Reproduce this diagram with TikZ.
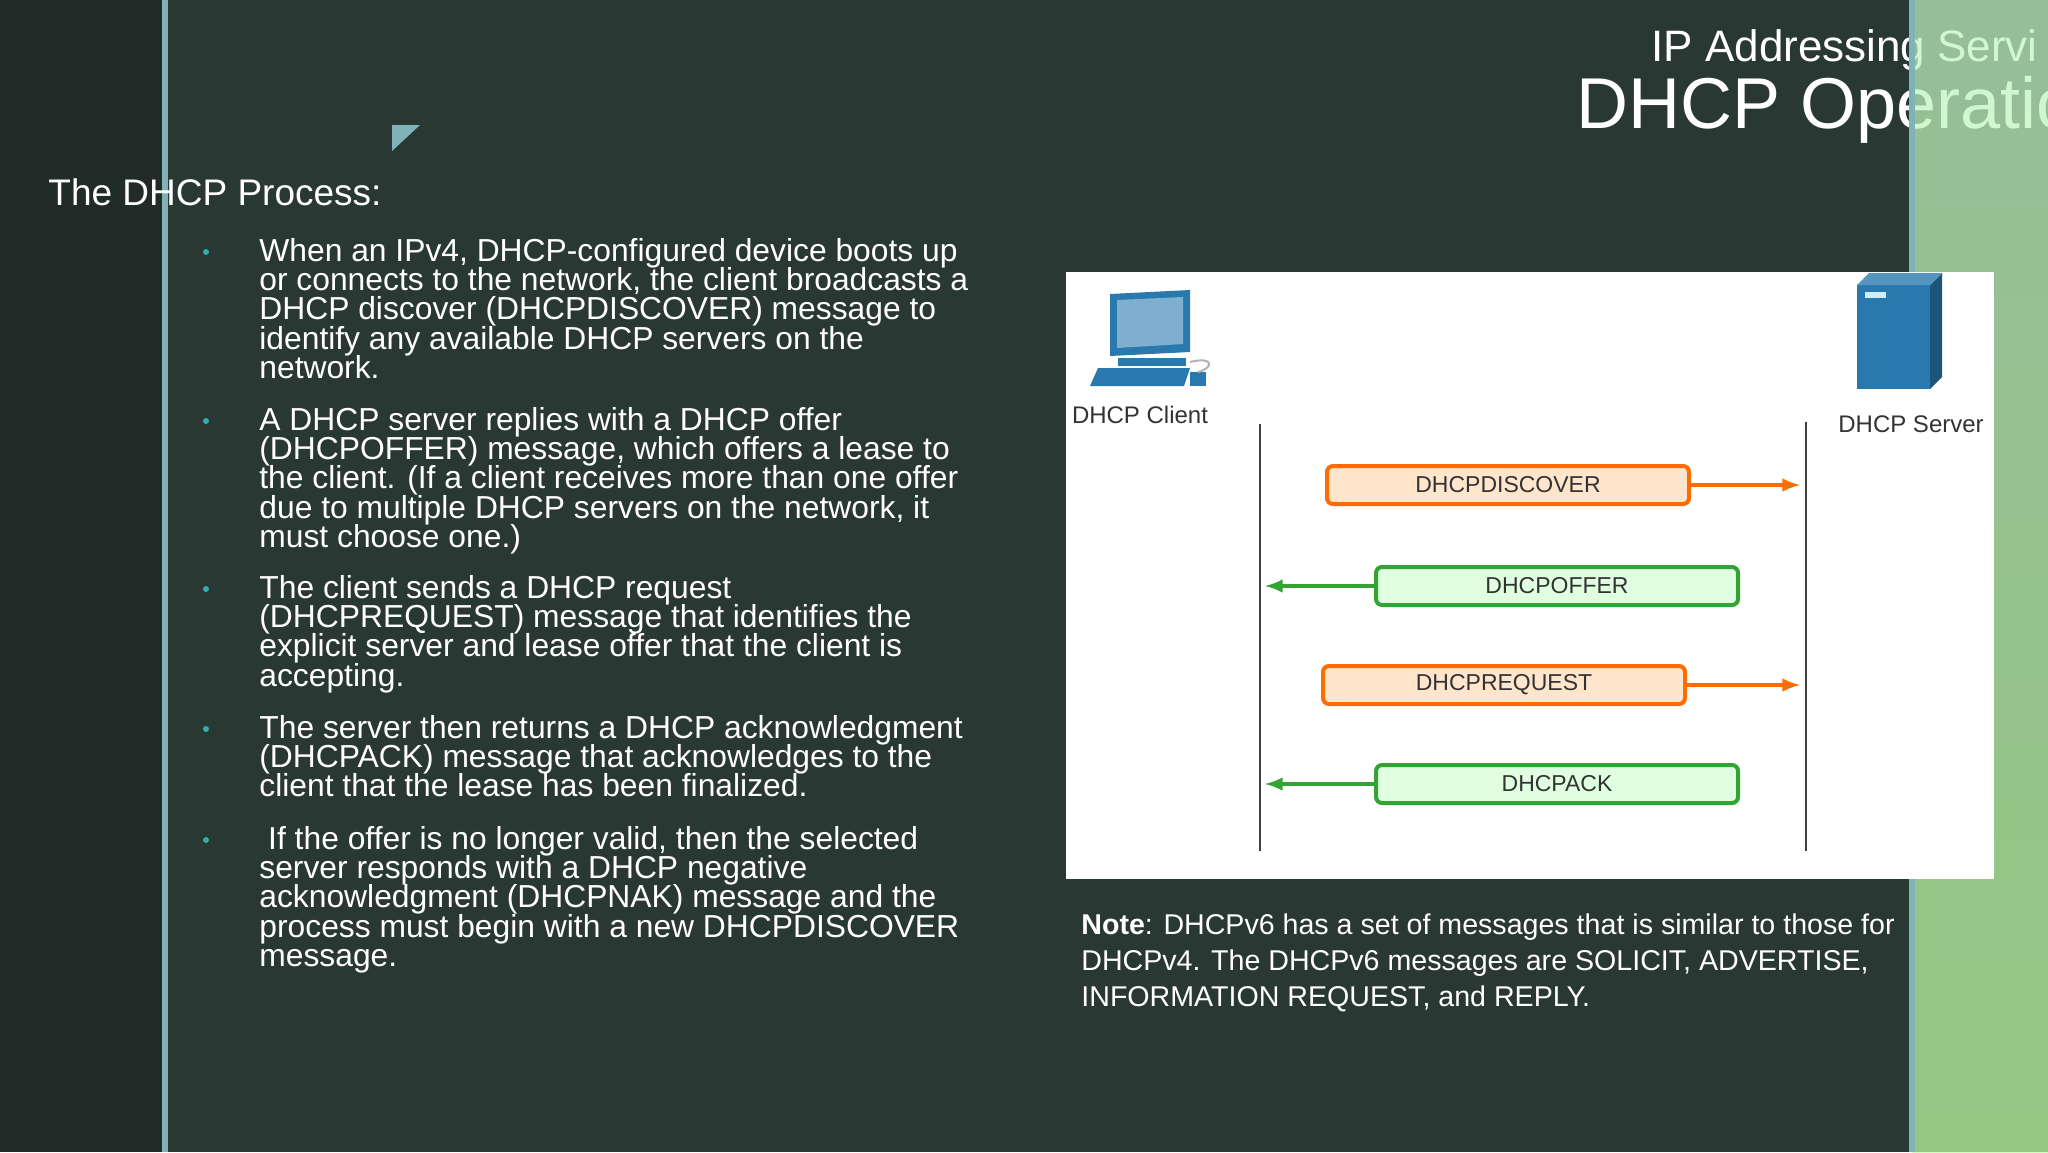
\documentclass[tikz,border=0pt]{standalone}
\usepackage{fontspec}
\setmainfont{Liberation Sans}
\newcommand\mytight{\lineskiplimit=-20pt\relax\lineskip=0pt\relax}
\begin{document}
\begin{tikzpicture}[x=0.5pt,y=-0.5pt,
  body/.style={anchor=north west,align=left,inner sep=0pt,text=white,font=\fontsize{15.9}{14.6}\selectfont\mytight},
  dot/.style={circle,fill=teal!40!cyan!60!gray,inner sep=0pt,minimum size=3pt},
  msgO/.style={draw=orange!85!red,line width=2pt,fill=orange!20!white,rounded corners=3pt,inner sep=0pt,text=black!80,font=\fontsize{11.5}{13}\selectfont},
  msgG/.style={draw=green!55!black!80,line width=2pt,fill=green!12!white,rounded corners=3pt,inner sep=0pt,text=black!80,font=\fontsize{11.5}{13}\selectfont},
  arO/.style={-latex,line width=2pt,draw=orange!85!red},
  arG/.style={-latex,line width=2pt,draw=green!55!black!80},
  life/.style={line width=1.4pt,draw=black!75},
  lab/.style={inner sep=0pt,text=black!80,font=\fontsize{12}{13}\selectfont},
  icon/.style={fill=iconb}]
\definecolor{bg}{HTML}{2A3833}
\definecolor{bgd}{HTML}{212C28}
\definecolor{tealline}{HTML}{7FB3B8}
\definecolor{iconb}{HTML}{2A79AE}
\useasboundingbox (0,0) rectangle (2048,1152);
\fill[bg] (0,0) rectangle (2048,1152);
\fill[bgd] (0,0) rectangle (163,1152);
\fill[tealline] (162,0) rectangle (168,1152);
% titles
\node[anchor=base west,inner sep=0pt,text=white,font=\fontsize{22}{26}\selectfont] (t1) at (1651,61) {IP Addressing Servi};
\node[anchor=base west,inner sep=0pt,text=white,font=\fontsize{36}{44}\selectfont] (t2) at (1576,128) {DHCP Operatio};
% green region
\shade[top color=green!22!white!90!gray,bottom color=green!25!white!85!lime,opacity=0.72] (1912,0) rectangle (2048,1152);
\fill[tealline] (1909,0) rectangle (1915,1152);
\fill[tealline] (392,125) -- (420,125) -- (392,151) -- cycle;
\node[anchor=base west,inner sep=0pt,text=white,font=\fontsize{18.5}{20}\selectfont] (h) at (48,205) {The DHCP Process:};
% bullets
\node[body] (b1) at (259,238) {When an IPv4, DHCP-configured device boots up\\or connects to the network, the client broadcasts a\\DHCP discover (DHCPDISCOVER) message to\\identify any available DHCP servers on the\\network.};
\node[body] (b2) at (259,407) {A DHCP server replies with a DHCP offer\\(DHCPOFFER) message, which offers a lease to\\the client. (If a client receives more than one offer\\due to multiple DHCP servers on the network, it\\must choose one.)};
\node[body] (b3) at (259,575) {The client sends a DHCP request\\(DHCPREQUEST) message that identifies the\\explicit server and lease offer that the client is\\accepting.};
\node[body] (b4) at (259,715) {The server then returns a DHCP acknowledgment\\(DHCPACK) message that acknowledges to the\\client that the lease has been finalized.};
\node[body] (b5) at (259,826) {\ If the offer is no longer valid, then the selected\\server responds with a DHCP negative\\acknowledgment (DHCPNAK) message and the\\process must begin with a new DHCPDISCOVER\\message.};
\foreach \y [count=\i] in {252,421,589,729,840} \node[dot] (d\i) at (206,\y) {};
% panel
\fill[white] (1066,272) rectangle (1994,879);
% client icon
\fill[icon] (1110,294) -- (1190,290) -- (1190,352) -- (1110,356) -- cycle;
\fill[iconb!60!white] (1117,300) -- (1183,297) -- (1183,344) -- (1117,348) -- cycle;
\fill[icon] (1118,358) rectangle (1186,366);
\fill[icon] (1098,368) -- (1190,368) -- (1184,386) -- (1090,386) -- cycle;
\fill[icon] (1190,372) rectangle (1206,386);
\draw[gray!60,line width=1pt] (1190,362) .. controls (1214,356) and (1214,368) .. (1198,372);
% server icon
\fill[icon] (1857,285) rectangle (1930,389);
\fill[iconb!70!black] (1930,285) -- (1942,273) -- (1942,377) -- (1930,389) -- cycle;
\fill[iconb!80!white] (1857,285) -- (1869,273) -- (1942,273) -- (1930,285) -- cycle;
\fill[white!80!cyan] (1865,292) rectangle (1886,298);
\node[lab] (cl) at (1140,415) {DHCP Client};
\node[lab] (sl) at (1911,424) {DHCP Server};
% lifelines
\coordinate (ct) at (1260,424); \coordinate (cb) at (1260,851);
\coordinate (st) at (1806,422); \coordinate (sb) at (1806,851);
\draw[life] (ct) -- (cb);
\draw[life] (st) -- (sb);
% messages
\node[msgO,minimum width=181pt,minimum height=19pt] (m1) at (1508,485) {DHCPDISCOVER};
\node[msgG,minimum width=181pt,minimum height=19pt] (m2) at (1557,586) {DHCPOFFER};
\node[msgO,minimum width=181pt,minimum height=19pt] (m3) at (1504,685) {DHCPREQUEST};
\node[msgG,minimum width=181pt,minimum height=19pt] (m4) at (1557,784) {DHCPACK};
\coordinate (e1) at (1800,485); \coordinate (e2) at (1265,586);
\coordinate (e3) at (1800,685); \coordinate (e4) at (1265,784);
\draw[arO] (m1.east) -- (e1);
\draw[arG] (m2.west) -- (e2);
\draw[arO] (m3.east) -- (e3);
\draw[arG] (m4.west) -- (e4);
% note
\node[anchor=north west,align=left,inner sep=0pt,text=white,font=\fontsize{14.3}{18}\selectfont] (note) at (1081,913) {\textbf{Note}: DHCPv6 has a set of messages that is similar to those for\\DHCPv4. The DHCPv6 messages are SOLICIT, ADVERTISE,\\INFORMATION REQUEST, and REPLY.};
\end{tikzpicture}
\end{document}
